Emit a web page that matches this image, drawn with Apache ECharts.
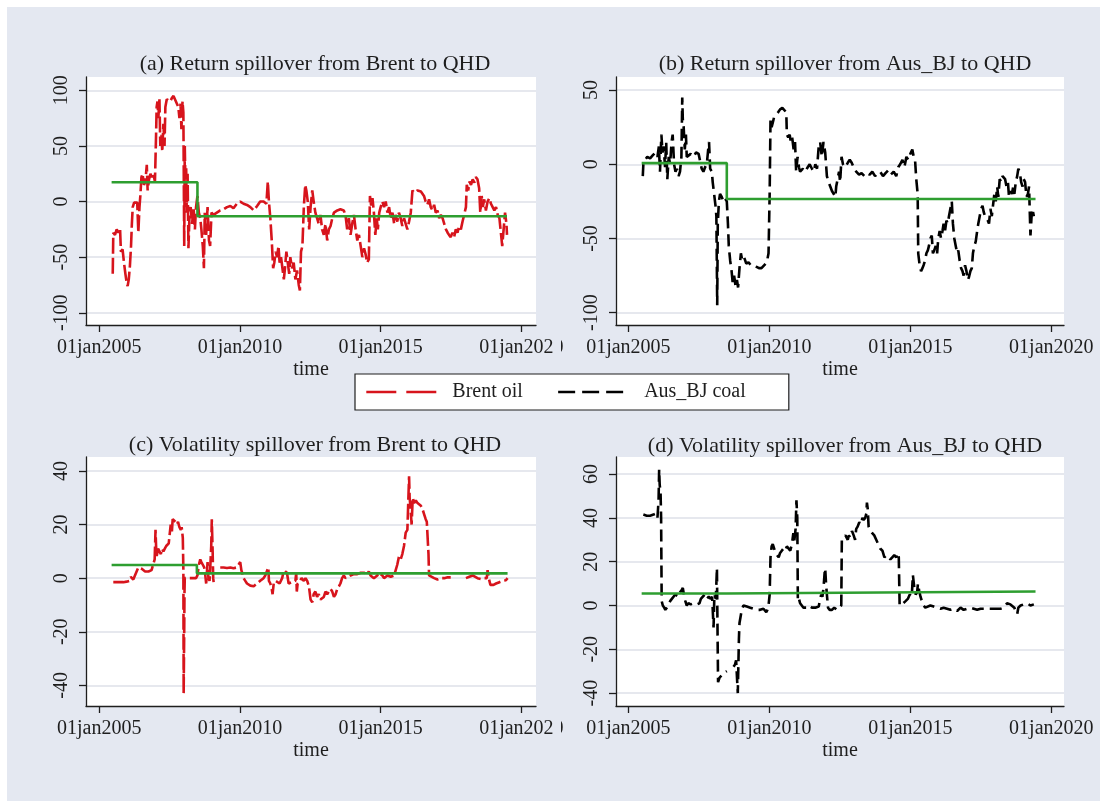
<!DOCTYPE html>
<html><head><meta charset="utf-8">
<script src="https://cdn.jsdelivr.net/npm/echarts@6/dist/echarts.min.js"></script>
<style>
html,body{margin:0;padding:0;background:#fff;}
#bg{position:absolute;left:7px;top:7px;width:1093px;height:794px;background:#e4e8f1;}
#chart{position:absolute;left:0;top:0;width:1100px;height:801px;}
</style></head><body><div id="bg"></div><div id="chart"></div>
<script>
// ---- Data (time in decimal years) ----
const titles = [
  '(a) Return spillover from Brent to QHD',
  '(b) Return spillover from Aus_BJ to QHD',
  '(c) Volatility spillover from Brent to QHD',
  '(d) Volatility spillover from Aus_BJ to QHD'
];
const legendNames = ['Brent oil', 'Aus_BJ coal'];
const xTickYears = [2005, 2010, 2015, 2020];
const yTicksA = [-100, -50, 0, 50, 100];
const yTicksB = [-100, -50, 0, 50];
const yTicksC = [-40, -20, 0, 20, 40];
const yTicksD = [-40, -20, 0, 20, 40, 60];

// (a) Return spillover Brent -> QHD
const brentReturn = [
[2005.48,-65],[2005.50,-28],[2005.56,-30],[2005.62,-25],[2005.68,-28],[2005.74,-24],[2005.77,-45],[2005.83,-43],
[2005.88,-55],[2005.93,-65],[2005.97,-72],[2006.01,-76],[2006.05,-70],[2006.09,-58],[2006.13,-40],[2006.16,-20],
[2006.19,-5],[2006.24,-1],[2006.29,0],[2006.35,-1],[2006.39,-28],[2006.43,-5],[2006.46,5],[2006.50,22],[2006.54,25],
[2006.59,15],[2006.64,18],[2006.69,33],[2006.72,10],[2006.77,20],[2006.82,25],[2006.86,22],[2006.92,25],[2006.98,18],
[2007.02,60],[2007.04,85],[2007.07,90],[2007.10,75],[2007.14,92],[2007.17,50],[2007.21,60],[2007.24,45],[2007.28,70],
[2007.32,50],[2007.35,85],[2007.40,92],[2007.46,93],[2007.52,90],[2007.58,93],[2007.64,95],[2007.70,94],[2007.76,88],
[2007.81,85],[2007.85,75],[2007.89,88],[2007.92,65],[2007.96,90],[2007.99,80],[2008.02,-40],[2008.04,50],[2008.06,20],
[2008.09,30],[2008.11,-10],[2008.14,25],[2008.17,-42],[2008.21,-10],[2008.25,-5],[2008.30,-20],[2008.35,-5],[2008.40,-25],
[2008.44,-5],[2008.49,5],[2008.54,-10],[2008.59,-15],[2008.63,-25],[2008.68,-40],[2008.72,-60],[2008.75,-10],[2008.80,-30],
[2008.85,-5],[2008.90,-35],[2008.94,-40],[2008.99,-10],[2009.06,-12],[2009.18,-10],[2009.30,-8],[2009.42,-7],[2009.54,-5],
[2009.66,-4],[2009.77,-6],[2009.89,-2],[2010.01,0],[2010.13,-2],[2010.25,-3],[2010.37,-5],[2010.49,-8],[2010.61,-4],
[2010.72,0],[2010.84,0],[2010.94,-2],[2010.99,18],[2011.03,0],[2011.08,-15],[2011.13,-35],[2011.18,-60],[2011.22,-55],
[2011.27,-45],[2011.32,-50],[2011.37,-40],[2011.41,-55],[2011.46,-50],[2011.51,-60],[2011.56,-70],[2011.60,-60],[2011.65,-45],
[2011.70,-55],[2011.75,-65],[2011.79,-50],[2011.85,-60],[2011.91,-55],[2011.97,-70],[2012.03,-62],[2012.09,-75],[2012.13,-80],
[2012.17,-45],[2012.22,-40],[2012.27,-5],[2012.32,15],[2012.36,10],[2012.41,0],[2012.46,-25],[2012.51,-5],[2012.57,10],
[2012.62,0],[2012.68,-10],[2012.74,-15],[2012.80,-20],[2012.86,-12],[2012.92,-25],[2012.98,-30],[2013.04,-20],[2013.10,-35],
[2013.16,-25],[2013.22,-22],[2013.28,-15],[2013.34,-10],[2013.46,-8],[2013.57,-7],[2013.69,-8],[2013.75,-12],[2013.81,-25],
[2013.87,-15],[2013.93,-30],[2013.99,-20],[2014.05,-12],[2014.11,-25],[2014.17,-35],[2014.23,-30],[2014.29,-40],[2014.35,-50],
[2014.41,-42],[2014.47,-48],[2014.52,-55],[2014.58,-52],[2014.62,5],[2014.67,-5],[2014.71,3],[2014.76,-10],[2014.81,-30],
[2014.86,-15],[2014.90,-25],[2014.95,-10],[2015.00,-5],[2015.06,0],[2015.12,-5],[2015.18,0],[2015.24,-10],[2015.30,-5],
[2015.36,-15],[2015.42,-10],[2015.48,-20],[2015.53,-12],[2015.59,-18],[2015.65,-10],[2015.71,-15],[2015.77,-22],[2015.83,-15],
[2015.89,-20],[2015.95,-25],[2016.01,-18],[2016.07,-10],[2016.13,10],[2016.19,8],[2016.31,10],[2016.43,9],[2016.54,5],
[2016.60,0],[2016.66,-3],[2016.72,2],[2016.78,-5],[2016.84,-8],[2016.90,-3],[2016.96,-10],[2017.02,-8],[2017.08,-15],
[2017.14,-12],[2017.20,-15],[2017.26,-20],[2017.32,-25],[2017.38,-28],[2017.43,-30],[2017.49,-32],[2017.55,-28],[2017.61,-32],
[2017.67,-25],[2017.73,-28],[2017.79,-22],[2017.85,-25],[2017.91,-18],[2017.97,-17],[2018.03,-5],[2018.06,15],[2018.11,10],
[2018.16,18],[2018.21,15],[2018.27,20],[2018.33,17],[2018.38,22],[2018.44,20],[2018.50,12],[2018.54,-10],[2018.59,5],
[2018.63,-5],[2018.68,2],[2018.74,-8],[2018.80,0],[2018.86,3],[2018.92,-2],[2018.98,-5],[2019.04,-8],[2019.10,-5],
[2019.16,-12],[2019.22,-15],[2019.28,-30],[2019.32,-40],[2019.37,-25],[2019.42,-10],[2019.47,-20],[2019.49,-30]
];
// (b) Return spillover Aus_BJ -> QHD
const coalReturn = [
[2005.51,-8],[2005.53,0],[2005.59,3],[2005.67,5],[2005.77,4],[2005.86,6],[2005.96,8],[2006.03,5],[2006.08,12],
[2006.12,-5],[2006.17,20],[2006.21,8],[2006.25,12],[2006.30,-2],[2006.34,15],[2006.38,-10],[2006.43,5],[2006.48,0],
[2006.53,15],[2006.57,20],[2006.62,0],[2006.67,-5],[2006.72,-3],[2006.78,-8],[2006.83,-5],[2006.88,5],[2006.91,45],
[2006.93,30],[2006.96,25],[2007.00,10],[2007.04,20],[2007.07,5],[2007.13,5],[2007.21,7],[2007.31,5],[2007.40,8],
[2007.49,7],[2007.54,6],[2007.60,-3],[2007.66,-5],[2007.72,-2],[2007.78,0],[2007.83,10],[2007.86,15],[2007.90,-3],
[2007.96,-5],[2007.99,-12],[2008.04,-20],[2008.09,-28],[2008.12,-35],[2008.15,-95],[2008.17,-40],[2008.21,-25],[2008.25,-20],
[2008.31,-22],[2008.37,-25],[2008.43,-23],[2008.49,-25],[2008.53,-40],[2008.56,-55],[2008.61,-65],[2008.66,-72],[2008.70,-80],
[2008.75,-75],[2008.80,-82],[2008.85,-78],[2008.89,-83],[2008.94,-70],[2008.99,-60],[2009.04,-65],[2009.11,-63],[2009.18,-67],
[2009.26,-66],[2009.34,-68],[2009.44,-68],[2009.53,-69],[2009.63,-70],[2009.72,-70],[2009.82,-68],[2009.91,-66],[2009.97,-60],
[2010.01,-20],[2010.04,30],[2010.08,25],[2010.12,28],[2010.17,32],[2010.24,33],[2010.31,35],[2010.38,37],[2010.46,38],
[2010.53,38],[2010.60,35],[2010.62,20],[2010.67,18],[2010.72,20],[2010.76,15],[2010.81,18],[2010.86,10],[2010.91,15],
[2010.95,-5],[2011.00,5],[2011.05,-2],[2011.09,-5],[2011.19,-3],[2011.27,-5],[2011.36,-2],[2011.43,0],[2011.51,-3],
[2011.57,-5],[2011.63,0],[2011.69,-3],[2011.75,12],[2011.80,15],[2011.86,5],[2011.92,15],[2011.98,8],[2012.04,-8],
[2012.10,-12],[2012.16,-15],[2012.22,-18],[2012.28,-20],[2012.34,-22],[2012.37,-15],[2012.42,-10],[2012.47,-5],[2012.51,-12],
[2012.56,5],[2012.61,0],[2012.69,-2],[2012.78,1],[2012.85,3],[2012.92,1],[2012.99,-2],[2013.08,-5],[2013.18,-7],
[2013.27,-6],[2013.37,-8],[2013.46,-6],[2013.56,-7],[2013.65,-5],[2013.75,-8],[2013.84,-6],[2013.93,-5],[2014.03,-8],
[2014.12,-6],[2014.22,-4],[2014.31,-7],[2014.41,-5],[2014.50,-8],[2014.57,-2],[2014.64,0],[2014.72,3],[2014.79,-2],
[2014.86,5],[2014.93,3],[2015.00,7],[2015.07,10],[2015.12,5],[2015.17,2],[2015.21,-10],[2015.26,-20],[2015.28,-60],
[2015.33,-68],[2015.38,-72],[2015.43,-70],[2015.47,-68],[2015.52,-65],[2015.57,-60],[2015.62,-58],[2015.66,-55],[2015.71,-50],
[2015.76,-48],[2015.80,-60],[2015.85,-58],[2015.90,-55],[2015.95,-60],[2015.99,-50],[2016.04,-45],[2016.09,-50],[2016.14,-45],
[2016.18,-40],[2016.23,-45],[2016.28,-38],[2016.33,-40],[2016.37,-35],[2016.42,-30],[2016.47,-25],[2016.51,-40],[2016.56,-50],
[2016.61,-55],[2016.66,-60],[2016.70,-58],[2016.75,-65],[2016.80,-70],[2016.85,-72],[2016.89,-75],[2016.94,-68],[2016.99,-72],
[2017.04,-78],[2017.08,-76],[2017.13,-72],[2017.18,-70],[2017.22,-60],[2017.27,-55],[2017.32,-52],[2017.37,-45],[2017.41,-40],
[2017.46,-35],[2017.51,-30],[2017.56,-28],[2017.60,-32],[2017.65,-35],[2017.70,-36],[2017.75,-38],[2017.79,-40],[2017.84,-30],
[2017.89,-35],[2017.93,-28],[2017.98,-20],[2018.03,-25],[2018.08,-15],[2018.12,-22],[2018.17,-10],[2018.22,-12],[2018.27,-8],
[2018.31,-7],[2018.36,-10],[2018.41,-15],[2018.46,-12],[2018.50,-22],[2018.55,-18],[2018.60,-20],[2018.65,-15],[2018.69,-20],
[2018.74,-12],[2018.79,-8],[2018.83,-3],[2018.88,-5],[2018.93,-12],[2018.98,-15],[2019.02,-10],[2019.07,-12],[2019.12,-22],
[2019.17,-20],[2019.21,-15],[2019.26,-48],[2019.30,-35],[2019.33,-30],[2019.38,-35]
];
// (c) Volatility spillover Brent -> QHD
const brentVol = [
[2005.50,-1.5],[2005.62,-1.5],[2005.74,-1.5],[2005.86,-1.5],[2005.97,-1.3],[2006.07,-1],[2006.12,0.5],[2006.16,0],
[2006.21,-0.5],[2006.27,-0.3],[2006.39,4],[2006.45,4.5],[2006.51,3.5],[2006.57,3],[2006.63,2.5],[2006.69,3],[2006.75,2.5],
[2006.81,3],[2006.86,3],[2006.92,2.8],[2006.97,7],[2007.00,18],[2007.02,12],[2007.04,8],[2007.09,11],[2007.14,10],
[2007.19,9],[2007.23,11],[2007.28,10],[2007.33,11],[2007.38,12],[2007.42,12],[2007.47,13],[2007.52,18],[2007.54,20],
[2007.58,17],[2007.61,22],[2007.66,22],[2007.71,21],[2007.76,20],[2007.80,21],[2007.85,19],[2007.90,18],[2007.93,19],
[2007.97,15],[2007.99,3],[2008.00,-43],[2008.02,-20],[2008.03,-5],[2008.04,0],[2008.11,0],[2008.23,0],[2008.35,0],
[2008.44,0],[2008.49,1],[2008.54,5],[2008.59,7],[2008.63,6],[2008.68,5],[2008.73,4],[2008.76,2],[2008.80,-2],[2008.85,6],
[2008.88,0],[2008.92,-1],[2008.95,5],[2008.98,12],[2009.00,22],[2009.03,10],[2009.05,0],[2009.07,-2],[2009.18,null],
[2009.30,4],[2009.42,4],[2009.54,3.8],[2009.66,4],[2009.77,3.7],[2009.89,4],[2009.95,5],[2010.01,6],[2010.05,3],
[2010.08,2],[2010.13,0],[2010.19,-1],[2010.25,-2],[2010.31,-2.5],[2010.37,-2.8],[2010.43,-2.5],[2010.49,-3],[2010.61,-2],
[2010.72,-1],[2010.84,0],[2010.90,1],[2010.96,0.5],[2011.01,4],[2011.03,-1],[2011.08,-2],[2011.13,-4],[2011.16,-6],
[2011.20,-2],[2011.26,-1],[2011.32,-1],[2011.41,-2],[2011.50,0],[2011.56,3],[2011.62,2.5],[2011.67,2],[2011.73,-2],
[2011.79,-2.5],[2011.97,-1],[2012.00,2],[2012.02,-5],[2012.05,-2],[2012.13,-1],[2012.19,0],[2012.27,-1],[2012.33,0],
[2012.39,-1],[2012.45,-3],[2012.51,-8],[2012.57,-9],[2012.62,-6],[2012.68,-5],[2012.74,-7],[2012.80,-6],[2012.86,-8],
[2012.98,-7],[2013.04,-5],[2013.10,-6],[2013.16,-5],[2013.22,-4],[2013.28,-5],[2013.34,-7],[2013.40,-6],[2013.46,-4],
[2013.52,-3],[2013.57,-2],[2013.63,0],[2013.69,1],[2013.75,0],[2013.81,0.5],[2013.93,1],[2014.05,1.5],[2014.17,1.5],
[2014.29,2],[2014.41,2],[2014.52,1.5],[2014.58,2.5],[2014.64,1],[2014.76,0],[2014.88,1],[2014.94,2],[2015.00,2.5],
[2015.06,1],[2015.12,0],[2015.24,1],[2015.36,0.5],[2015.48,1],[2015.53,1.5],[2015.59,5],[2015.65,8],[2015.71,7],
[2015.77,9],[2015.83,12],[2015.89,17],[2015.95,18],[2016.01,38],[2016.03,30],[2016.07,25],[2016.10,20],[2016.14,30],
[2016.19,28],[2016.25,29],[2016.31,28],[2016.37,28],[2016.43,27],[2016.48,26],[2016.54,24],[2016.60,22],[2016.64,21],
[2016.67,15],[2016.70,9],[2016.72,1],[2016.78,0.5],[2016.90,0],[2017.02,-0.5],[2017.14,0],[2017.26,0],[2017.38,0.3],
[2017.49,0.3],[2017.75,null],[2018.03,0],[2018.15,0.5],[2018.21,0],[2018.27,1],[2018.33,0.5],[2018.44,0],[2018.56,-0.3],
[2018.68,0],[2018.77,0],[2018.80,3],[2018.84,0],[2018.90,-2.5],[2018.94,-3],[2019.01,-2.5],[2019.10,-2],[2019.22,-1.5],
[2019.34,-1],[2019.45,-0.8],[2019.51,0]
];
// (d) Volatility spillover Aus_BJ -> QHD
const coalVol = [
[2005.53,41.5],[2005.65,41],[2005.77,41],[2005.89,41.5],[2005.98,42],[2006.03,40],[2006.07,48],[2006.09,62],[2006.11,55],
[2006.14,52],[2006.16,40],[2006.18,2],[2006.22,0],[2006.27,-1],[2006.31,-2],[2006.36,-2],[2006.42,0],[2006.48,2],
[2006.54,3],[2006.60,4],[2006.66,5],[2006.72,5],[2006.78,4],[2006.83,6],[2006.89,7],[2006.93,8],[2006.98,4],[2007.02,2],
[2007.07,0],[2007.13,1],[2007.21,0.5],[2007.31,1],[2007.43,0.5],[2007.52,1],[2007.57,3],[2007.64,4],[2007.71,5],
[2007.78,3],[2007.85,4],[2007.92,3],[2007.97,4],[2008.02,-10],[2008.05,5],[2008.10,3],[2008.14,17],[2008.16,-10],
[2008.18,-35],[2008.23,-33],[2008.30,-32],[2008.37,-31],[2008.44,-31],[2008.49,-30],[2008.60,null],[2008.73,-28],[2008.78,-27],
[2008.82,-25],[2008.88,-40],[2008.92,-15],[2008.94,-8],[2008.98,-5],[2009.02,-2],[2009.08,0],[2009.20,-0.5],[2009.32,-1],
[2009.44,-1.5],[2009.56,-2],[2009.67,-2],[2009.79,-1.5],[2009.89,-3],[2009.93,-2],[2009.97,0],[2010.01,5],[2010.04,22],
[2010.08,27],[2010.12,28],[2010.17,26],[2010.22,24],[2010.27,23],[2010.33,22],[2010.38,24],[2010.44,25],[2010.50,26],
[2010.56,25],[2010.62,27],[2010.68,26],[2010.74,25],[2010.80,28],[2010.85,33],[2010.88,29],[2010.93,35],[2010.96,48],
[2010.99,40],[2011.01,2],[2011.05,3],[2011.09,1],[2011.15,0],[2011.21,-1],[2011.31,-1],[2011.40,0],[2011.51,-1],
[2011.63,-1],[2011.75,-0.5],[2011.80,3],[2011.84,5],[2011.88,4],[2011.92,8],[2011.96,15],[2011.98,17],[2012.01,10],
[2012.04,5],[2012.08,-1],[2012.14,-2],[2012.22,-2],[2012.30,-1],[2012.40,-2],[2012.49,-1],[2012.55,0],[2012.57,30],
[2012.63,31],[2012.70,32],[2012.78,30],[2012.82,32],[2012.87,31],[2012.93,34],[2012.99,32],[2013.04,30],[2013.08,35],
[2013.13,36],[2013.19,38],[2013.25,37],[2013.30,40],[2013.34,39],[2013.40,40],[2013.44,42],[2013.46,47],[2013.49,44],
[2013.52,36],[2013.58,34],[2013.65,33],[2013.72,32],[2013.79,30],[2013.86,28],[2013.93,26],[2014.01,25],[2014.08,22],
[2014.15,23],[2014.22,22],[2014.29,21],[2014.36,22],[2014.43,23],[2014.50,22],[2014.55,24],[2014.59,22],[2014.62,0],
[2014.70,0.5],[2014.76,1],[2014.83,2],[2014.91,3],[2014.98,5],[2015.05,4],[2015.09,14],[2015.14,8],[2015.19,5],
[2015.24,6],[2015.27,10],[2015.31,7],[2015.36,4],[2015.41,2],[2015.47,0],[2015.53,-1],[2015.59,-0.5],[2015.71,0],
[2015.83,-0.5],[2015.95,-1],[2016.07,-1.5],[2016.18,-1],[2016.30,-1.5],[2016.42,-2],[2016.54,-1.5],[2016.66,-2.5],[2016.78,-1],
[2016.89,-2],[2017.01,-1.5],[2017.13,-1],[2017.25,-1.5],[2017.37,-2],[2017.49,-1.5],[2017.60,-1.5],[2017.72,-1.5],[2017.84,-1.5],
[2017.96,-1.5],[2018.08,-1.5],[2018.20,-1.5],[2018.31,-1],[2018.43,1],[2018.55,0.5],[2018.62,1],[2018.69,-1],[2018.74,-3],
[2018.79,-4],[2018.83,-1],[2018.91,0],[2019.02,0.5],[2019.14,1],[2019.26,0],[2019.38,0.5]
];

// Regime means (green step line): [start, break, end, mean before, mean after]
const meanA = [2005.44, 2008.49, 2019.49, 17.4, -13.2];
const meanB = [2005.47, 2008.49, 2019.44, 0.8, -23.4];
const meanC = [2005.44, 2008.47, 2019.51, 4.9, 1.8];
const meanD = [2005.47, 2008.49, 2019.44, 5.5, 6.4];

// ---- Chart ----
const FONT = "'Liberation Serif','Times New Roman',serif";
const INK = '#1e1e1e';
const RED = '#d7141c';
const BLACK = '#000000';
const GREEN = '#2e9e30';
const BG = '#e4e8f1';

function meanLine(m) {
  return [[m[0], m[3]], [m[1], m[3]], [m[1], m[4]], [m[2], m[4]]];
}
function xAx(gi, min, max) {
  return {
    type: 'value', gridIndex: gi, min: min, max: max,
    name: 'time', nameLocation: 'middle', nameGap: 35,
    nameTextStyle: { fontFamily: FONT, fontSize: 20, color: INK },
    axisLine: { show: true, onZero: false, lineStyle: { color: INK, width: 1.3 } },
    axisTick: { show: true, length: 7, customValues: xTickYears, lineStyle: { color: INK, width: 1.3 } },
    axisLabel: { customValues: xTickYears, margin: 13, fontFamily: FONT, fontSize: 20, color: INK,
      formatter: function (v) { return '01jan' + Math.round(v); } },
    splitLine: { show: false }
  };
}
function yAx(gi, min, max, ticks) {
  return {
    type: 'value', gridIndex: gi, min: min, max: max,
    axisLine: { show: true, lineStyle: { color: INK, width: 1.3 } },
    axisTick: { show: true, length: 7, customValues: ticks, lineStyle: { color: INK, width: 1.3 } },
    axisLabel: { customValues: ticks, rotate: 90, margin: 14, fontFamily: FONT, fontSize: 20, color: INK },
    splitLine: { show: true, lineStyle: { color: '#e6e8ee', width: 2 } }
  };
}
function dataSeries(name, gi, data, color, dash) {
  return {
    type: 'line', name: name, xAxisIndex: gi, yAxisIndex: gi, data: data,
    symbol: 'none', showSymbol: false, connectNulls: false, animation: false,
    lineStyle: { color: color, width: 2.6, type: dash }, itemStyle: { color: color }, z: 2
  };
}
function greenSeries(gi, m) {
  return {
    type: 'line', name: 'mean', xAxisIndex: gi, yAxisIndex: gi, data: meanLine(m),
    symbol: 'none', showSymbol: false, animation: false,
    lineStyle: { color: GREEN, width: 2.6 }, itemStyle: { color: GREEN }, z: 3
  };
}

const chart = echarts.init(document.getElementById('chart'), null, { renderer: 'canvas' });
const titleCenters = [[310, 48], [840, 48], [310, 429], [840, 430]];
chart.setOption({
  animation: false,
  backgroundColor: 'transparent',
  title: titles.map(function (t, i) {
    return { text: t, left: titleCenters[i][0], top: titleCenters[i][1], textAlign: 'center',
      textStyle: { fontFamily: FONT, fontSize: 22, fontWeight: 'normal', color: INK } };
  }),
  legend: {
    left: 355, top: 374, orient: 'horizontal',
    backgroundColor: '#ffffff', borderColor: INK, borderWidth: 1.2, borderRadius: 0,
    padding: [8, 43, 8, 10], itemGap: 34, itemWidth: 70, itemHeight: 14,
    textStyle: { fontFamily: FONT, fontSize: 20, color: INK, padding: [0, 0, 0, 11] },
    selectedMode: false,
    data: [
      { name: legendNames[0], itemStyle: { opacity: 0 }, lineStyle: { type: [30, 10], width: 2.6, color: RED } },
      { name: legendNames[1], itemStyle: { opacity: 0 }, lineStyle: { type: [17, 7], width: 2.6, color: BLACK } }
    ]
  },
  grid: [
    { left: 86, top: 77, width: 450, height: 248, show: true, backgroundColor: '#fff', borderWidth: 0 },
    { left: 616, top: 77, width: 448, height: 248, show: true, backgroundColor: '#fff', borderWidth: 0 },
    { left: 86, top: 457, width: 450, height: 249, show: true, backgroundColor: '#fff', borderWidth: 0 },
    { left: 616, top: 457, width: 448, height: 249, show: true, backgroundColor: '#fff', borderWidth: 0 }
  ],
  xAxis: [xAx(0, 2004.53, 2020.52), xAx(1, 2004.56, 2020.45), xAx(2, 2004.53, 2020.52), xAx(3, 2004.56, 2020.45)],
  yAxis: [yAx(0, -111, 112, yTicksA), yAx(1, -108.3, 58.8, yTicksB), yAx(2, -47.7, 45.2, yTicksC), yAx(3, -45.9, 67.8, yTicksD)],
  series: [
    dataSeries(legendNames[0], 0, brentReturn, RED, [16, 4]),
    greenSeries(0, meanA),
    dataSeries(legendNames[1], 1, coalReturn, BLACK, [12, 6]),
    greenSeries(1, meanB),
    dataSeries(legendNames[0] + ' ', 2, brentVol, RED, [16, 4]),
    greenSeries(2, meanC),
    dataSeries(legendNames[1] + ' ', 3, coalVol, BLACK, [12, 6]),
    greenSeries(3, meanD)
  ],
  graphic: [
    { type: 'rect', left: 554, top: 333, shape: { width: 7, height: 30 }, style: { fill: BG }, z: 100 },
    { type: 'rect', left: 554, top: 713, shape: { width: 7, height: 30 }, style: { fill: BG }, z: 100 }
  ]
});
</script></body></html>
